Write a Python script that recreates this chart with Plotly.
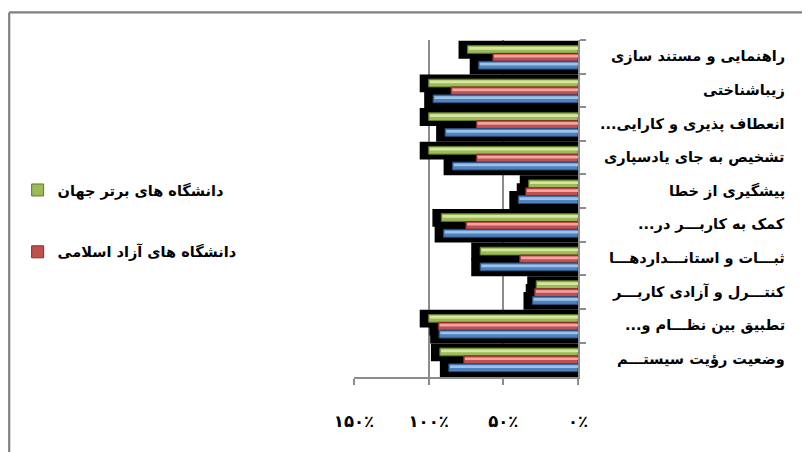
import plotly.graph_objects as go

categories = [
    "راهنمایی و مستند سازی",
    "زیباشناختی",
    "...انعطاف پذیری و کارایی",
    "تشخیص به جای یادسپاری",
    "پیشگیری از خطا",
    "...کمک به کاربـــر در",
    "ثبـــات و استانـــداردهـــا",
    "کنتـــرل و آزادی کاربـــر",
    "...تطبیق بین نظـــام و",
    "وضعیت رؤیت سیستـــم",
]

series_names = ["دانشگاه های برتر جهان", "دانشگاه های آزاد اسلامی", "دانشگاه های دولتی"]
green_vals = [74, 100, 100, 100, 33, 91.5, 65.5, 28, 100, 92.5]
red_vals = [57, 85, 68, 68, 35, 75, 39, 29, 93.5, 76.5]
blue_vals = [66.5, 97, 89, 84, 40, 90, 65.5, 30.5, 93, 86.5]

tick_vals = [0, 50, 100, 150]
tick_text = ["۰٪", "۵۰٪", "۱۰۰٪", "۱۵۰٪"]

# styles
BAR_W = 0.23
OFFSETS = [-0.335, -0.10, 0.135]
SHADOW_PAD = 6
styles = [
    dict(main="#9BBB59", hi="#D6E6A0", line="#5F7A2C"),
    dict(main="#C0504D", hi="#F4A3A1", line="#8A2A28"),
    dict(main="#4F81BD", hi="#9CC2EA", line="#284F80"),
]
all_vals = [green_vals, red_vals, blue_vals]
FONT = "DejaVu Sans"

fig = go.Figure()

# shadows
for vals, off in zip(all_vals, OFFSETS):
    fig.add_trace(go.Bar(
        y=categories, x=[v + SHADOW_PAD for v in vals], orientation="h",
        width=BAR_W + 0.3, offset=off - 0.14,
        marker=dict(color="black", line=dict(width=0)),
        showlegend=False, hoverinfo="skip",
    ))

# main bars
for i, (vals, off, st, name) in enumerate(zip(all_vals, OFFSETS, styles, series_names)):
    fig.add_trace(go.Bar(
        y=categories, x=vals, orientation="h", name=name,
        width=BAR_W, offset=off,
        marker=dict(color=st["main"], line=dict(color=st["line"], width=1)),
        showlegend=(i < 2), legendgroup=f"g{i}",
    ))
    fig.add_trace(go.Bar(
        y=categories, x=[v - 0.8 for v in vals], orientation="h",
        width=BAR_W * 0.35, offset=off + BAR_W * 0.18,
        marker=dict(color=st["hi"], line=dict(width=0)),
        showlegend=False, hoverinfo="skip", legendgroup=f"g{i}",
    ))

# category labels (right aligned, RTL)
for c in categories:
    fig.add_annotation(
        x=0.9713, xref="paper", y=c, yref="y", text=c, showarrow=False,
        xanchor="right", yanchor="middle",
        font=dict(family=FONT, size=14.5, color="black", weight="bold"),
    )

# outer frame (left, top, right edges)
FRAME = dict(color="#808080", width=2.2)
fig.add_shape(type="line", xref="paper", yref="paper",
              x0=0.0015, x1=0.0015, y0=0, y1=0.99, line=FRAME, layer="above")
fig.add_shape(type="line", xref="paper", yref="paper",
              x0=0.0015, x1=0.998, y0=0.99, y1=0.99, line=FRAME, layer="above")
fig.add_shape(type="line", xref="paper", yref="paper",
              x0=0.998, x1=0.998, y0=0, y1=0.99, line=FRAME, layer="above")

fig.update_layout(
    width=802, height=444,
    margin=dict(l=0, r=0, t=0, b=0, autoexpand=False),
    paper_bgcolor="white", plot_bgcolor="white",
    barmode="overlay",
    showlegend=True,
    legend=dict(
        x=0.012, y=0.626, xanchor="left", yanchor="top",
        traceorder="grouped", tracegroupgap=40,
        font=dict(family=FONT, size=14.5, color="black", weight="bold"),
        bgcolor="rgba(0,0,0,0)",
    ),
    xaxis=dict(
        domain=[0.43142, 0.71072],
        range=[150, 0], tickvals=tick_vals, ticktext=tick_text,
        showgrid=True, gridcolor="#8C8C8C", gridwidth=1.5,
        showline=True, linecolor="#8C8C8C", linewidth=1.5,
        ticks="outside", ticklen=6, tickcolor="#8C8C8C", tickwidth=1.5,
        ticklabelstandoff=22, zeroline=False,
        tickfont=dict(family=FONT, size=16.5, color="black", weight="bold"),
    ),
    yaxis=dict(
        domain=[0.16892, 0.92793],
        autorange="reversed", side="right", showticklabels=False,
        showline=True, linecolor="#8C8C8C", linewidth=1.5,
        ticks="outside", ticklen=6, tickcolor="#8C8C8C", tickwidth=1.5,
        tickson="boundaries", showgrid=False,
    ),
)

fig.write_html("out.html")
